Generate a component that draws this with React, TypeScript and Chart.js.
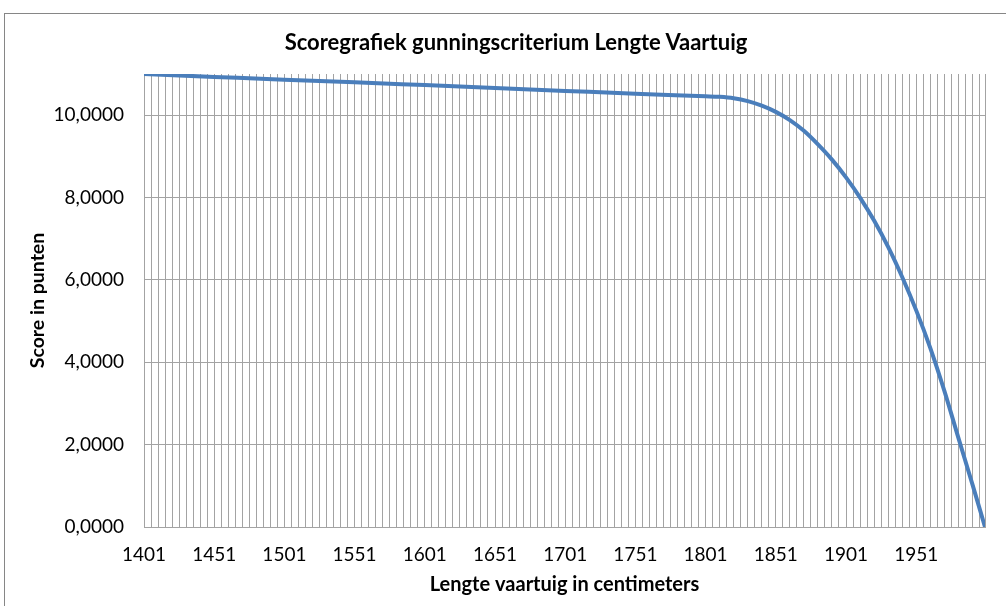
import React, { useEffect, useRef } from "react";
import { Chart, registerables } from "chart.js";

Chart.register(...registerables);

const chartTitle = "Scoregrafiek gunningscriterium Lengte Vaartuig";
const xAxisTitle = "Lengte vaartuig in centimeters";
const yAxisTitle = "Score in punten";

const lengths = [
  1401, 1451, 1501, 1551, 1601, 1651, 1701, 1751, 1801, 1811, 1821, 1831, 1841,
  1851, 1861, 1871, 1881, 1891, 1901, 1911, 1921, 1931, 1941, 1951, 1961, 1971,
  1981, 1991, 2000,
];
const scores = [
  11.0, 10.93, 10.86, 10.8, 10.73, 10.66, 10.59, 10.52, 10.46, 10.445, 10.41,
  10.34, 10.23, 10.08, 9.88, 9.62, 9.29, 8.92, 8.49, 8.0, 7.44, 6.8, 6.07, 5.26,
  4.35, 3.31, 2.17, 1.04, 0.0,
];
const xTickLabels = [1401, 1451, 1501, 1551, 1601, 1651, 1701, 1751, 1801, 1851, 1901, 1951];
const xMin = 1401;
const xMax = 2000;
const yTicks = [0, 2, 4, 6, 8, 10];
const yMax = 11;

const FONT = "Lato, 'Open Sans', sans-serif";
const GRID = "#a3a3a3";

export default function App() {
  const canvasRef = useRef<HTMLCanvasElement | null>(null);

  useEffect(() => {
    if (!canvasRef.current) return;
    const chart = new Chart(canvasRef.current, {
      type: "line",
      data: {
        datasets: [
          {
            data: lengths.map((l, i) => ({ x: l, y: scores[i] })),
            borderColor: "#4a7ebb",
            borderWidth: 4,
            pointRadius: 0,
            cubicInterpolationMode: "monotone",
            fill: false,
          },
        ],
      },
      options: {
        animation: false,
        responsive: true,
        maintainAspectRatio: false,
        layout: { padding: { left: 0, right: 21, top: 74, bottom: 9 } },
        plugins: {
          legend: { display: false },
          tooltip: { enabled: false },
          title: { display: false },
        },
        scales: {
          x: {
            type: "linear",
            min: xMin,
            max: xMax,
            afterBuildTicks: (s: any) => {
              const t: any[] = [];
              for (let v = xMin; v <= xMax; v += 5) t.push({ value: v });
              if (t[t.length - 1].value !== xMax) t.push({ value: xMax });
              s.ticks = t;
            },
            afterFit: (s: any) => {
              s.height = 70;
            },
            ticks: {
              autoSkip: false,
              maxRotation: 0,
              minRotation: 0,
              padding: 16,
              color: "#000",
              font: { family: FONT, size: 19 },
              callback: (v: any) => (xTickLabels.includes(Number(v)) ? String(v) : ""),
            },
            grid: { color: GRID, drawTicks: false, lineWidth: 1 },
            border: { color: GRID },
            title: {
              display: true,
              text: xAxisTitle,
              color: "#000",
              font: { family: FONT, size: 20, weight: "bold" },
              padding: { top: 0, bottom: 0 },
            },
          },
          y: {
            type: "linear",
            min: 0,
            max: yMax,
            afterBuildTicks: (s: any) => {
              s.ticks = [...yTicks, yMax].map((v) => ({ value: v }));
            },
            afterFit: (s: any) => {
              s.width = 144;
            },
            ticks: {
              padding: 20,
              color: "#000",
              font: { family: FONT, size: 19 },
              callback: (v: any) =>
                yTicks.includes(Number(v)) ? Number(v).toFixed(4).replace(".", ",") : "",
            },
            grid: {
              color: (ctx: any) => (ctx.tick && ctx.tick.value === yMax ? "rgba(0,0,0,0)" : GRID),
              drawTicks: false,
            },
            border: { color: GRID },
            title: {
              display: true,
              text: yAxisTitle,
              color: "#000",
              font: { family: FONT, size: 19.5, weight: "bold" },
              padding: { top: 26, bottom: 0 },
            },
          },
        },
      },
    } as any);
    return () => chart.destroy();
  }, []);

  return (
    <>
      <div
        style={{
          position: "fixed",
          left: 4,
          top: 13,
          width: 1100,
          height: 700,
          border: "1px solid #868686",
          boxSizing: "border-box",
        }}
      />
      <div style={{ position: "fixed", left: 0, top: 0, width: 1006, height: 606 }}>
        <canvas ref={canvasRef} />
      </div>
      <div
        style={{
          position: "fixed",
          left: 0,
          top: 28,
          width: 1032,
          textAlign: "center",
          fontFamily: FONT,
          fontWeight: "bold",
          fontSize: 22,
          lineHeight: "28px",
          color: "#000",
          whiteSpace: "nowrap",
        }}
      >
        {chartTitle}
      </div>
    </>
  );
}
